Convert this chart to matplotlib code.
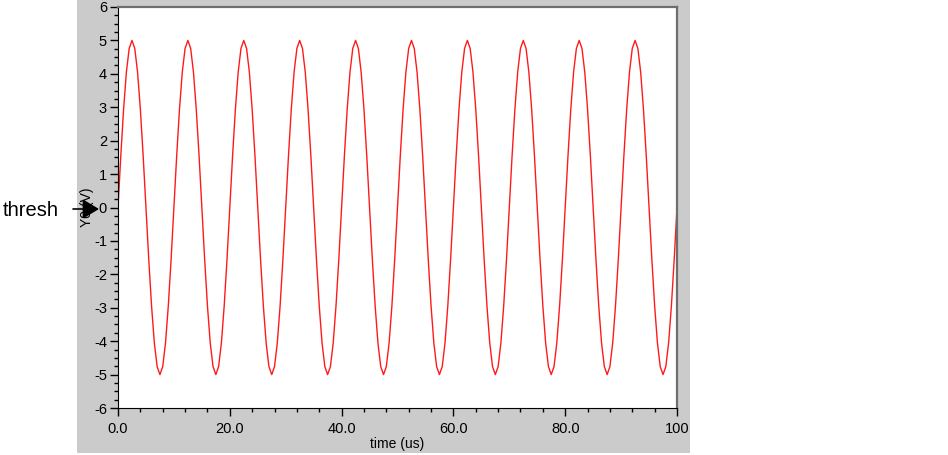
import numpy as np
import matplotlib.pyplot as plt
import matplotlib.ticker as mtick
from matplotlib.patches import Rectangle, FancyArrowPatch

plt.rcParams["font.family"] = ["Liberation Sans", "DejaVu Sans"]
plt.rcParams["axes.unicode_minus"] = False

cycle_values = [0.0, 1.55, 2.94, 4.05, 4.76, 5.0, 4.76, 4.05, 2.94, 1.55,
                0.0, -1.55, -2.94, -4.05, -4.76, -5.0, -4.76, -4.05, -2.94, -1.55]
n_cycles = 10
time_us = np.arange(0, 100.5, 0.5)
y0_volts = np.append(np.tile(cycle_values, n_cycles), 0.0)

x_ticks = [0, 20, 40, 60, 80, 100]
x_tick_labels = ['0.0', '20.0', '40.0', '60.0', '80.0', '100']
y_ticks = list(range(-6, 7))

fig = plt.figure(figsize=(9.48, 4.55), dpi=100)
fig.patch.set_facecolor('white')

# grey panel behind the plot
fig.add_artist(Rectangle((77 / 948, 2 / 455), 613 / 948, 453 / 455,
                         transform=fig.transFigure, facecolor='#cbcbcb',
                         edgecolor='none', zorder=-5))

ax = fig.add_axes([118 / 948, 47 / 455, 559 / 948, 401 / 455])
ax.set_zorder(2)
ax.set_facecolor('white')
ax.plot(time_us, y0_volts, color='#ff1a1a', lw=1.0)

ax.set_xlim(0, 100)
ax.set_ylim(-6, 6)
ax.set_xticks(x_ticks)
ax.set_xticklabels(x_tick_labels)
ax.set_yticks(y_ticks)
ax.xaxis.set_minor_locator(mtick.MultipleLocator(4))
ax.yaxis.set_minor_locator(mtick.MultipleLocator(0.25))
ax.tick_params(which='major', length=6, width=1, labelsize=10.5, pad=2, color='black')
ax.tick_params(axis='x', which='major', pad=4)
ax.tick_params(which='minor', length=3, width=1, color='black')

ax.set_xlabel('time (us)', fontsize=10, labelpad=1)
ax.set_ylabel('Y0 (V)', fontsize=10, labelpad=0)

ax.spines['left'].set_color('black')
ax.spines['bottom'].set_color('black')
ax.spines['top'].set_color('#6e6e6e')
ax.spines['right'].set_color('#6e6e6e')
ax.spines['top'].set_linewidth(1.6)
ax.spines['right'].set_linewidth(1.6)

# threshold marker pointing at 0 V
fig.text(3 / 948, 1 - 210 / 455, 'thresh', fontsize=14.5, va='center', ha='left')
arrow = FancyArrowPatch((73 / 948, 1 - 209 / 455), (99 / 948, 1 - 209 / 455),
                        transform=fig.transFigure,
                        arrowstyle='-|>,head_length=10,head_width=6',
                        color='black', lw=1.2, shrinkA=0, shrinkB=0, zorder=5)
fig.add_artist(arrow)

plt.savefig('out.png', dpi=100)
